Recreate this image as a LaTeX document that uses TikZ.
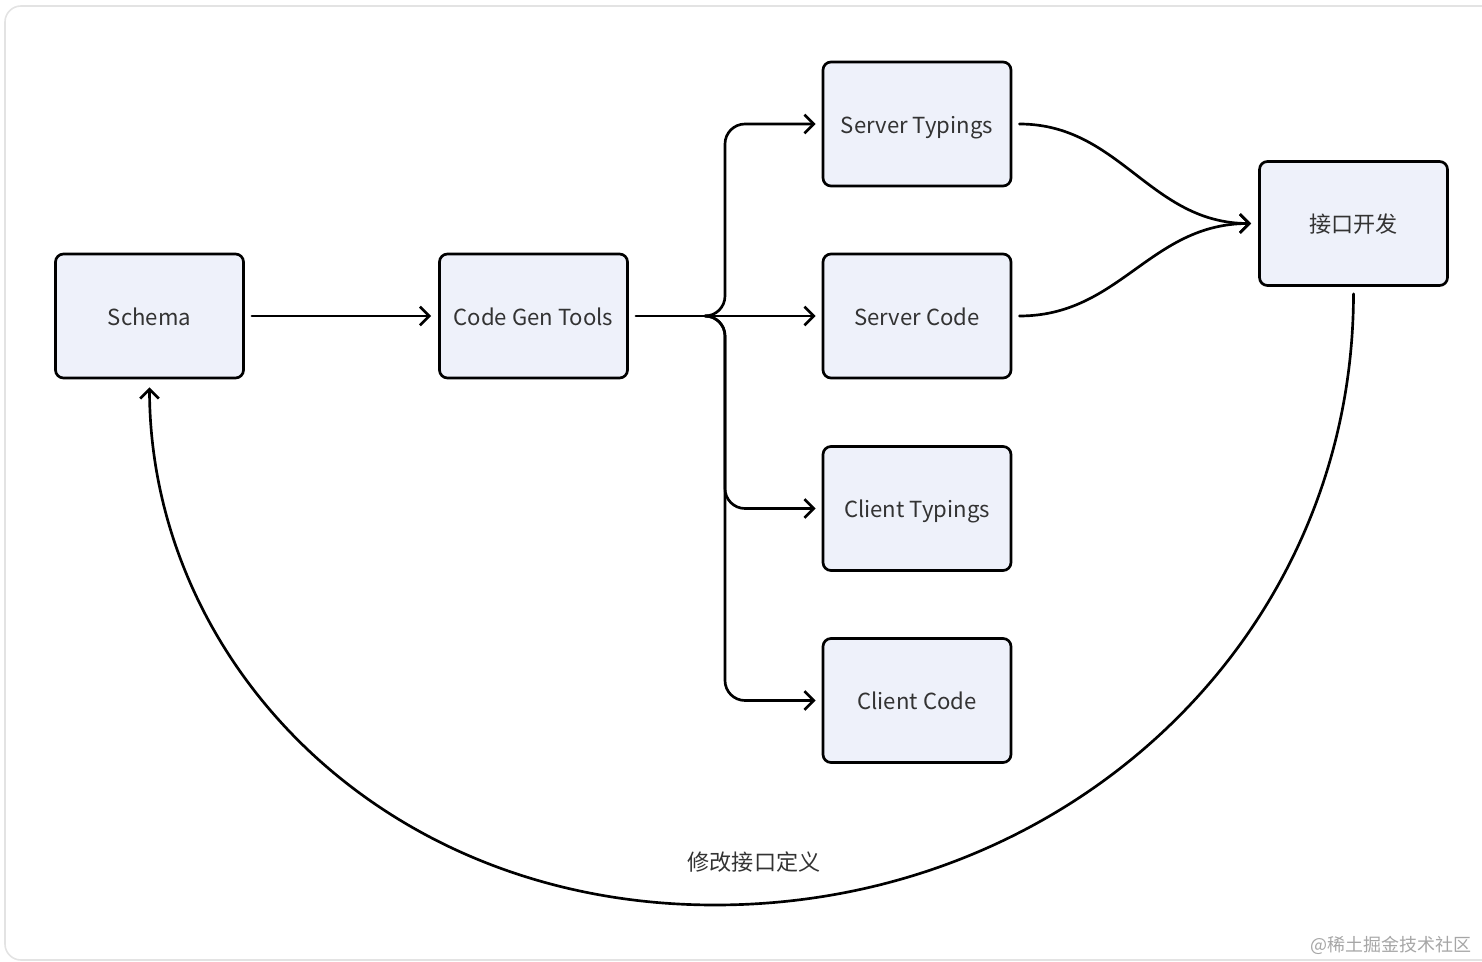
\documentclass[tikz,border=0pt]{standalone}
\usepackage{fontspec}
\setmainfont{Noto Sans CJK SC}
\usetikzlibrary{arrows.meta,calc}
\definecolor{boxfill}{HTML}{EEF1FA}
\definecolor{txt}{HTML}{333333}
\definecolor{frame}{HTML}{E3E3E3}
\begin{document}
\begin{tikzpicture}[x=0.75pt,y=-0.75pt,
  box/.style={draw=black,fill=boxfill,line width=2pt,rounded corners=6pt,
    minimum width=141pt,minimum height=93pt,inner sep=0pt,
    text height=14pt,text depth=0pt,
    font=\fontsize{16.6}{19}\selectfont,text=txt},
  arr/.style={line width=2pt,line cap=round,line join=round,
    -{Straight Barb[length=7pt,width=14pt,line width=2pt]}},
  lbl/.style={font=\fontsize{16.6}{19}\selectfont,text=txt},
  wm/.style={font=\fontsize{13.5}{15}\selectfont,text=black!35}]
\useasboundingbox (0,0) rectangle (1482,962);
\draw[frame,line width=1.2pt,rounded corners=12pt] (5,6) rectangle (1500,960);
\node[box] (schema) at (149.5,316) {Schema};
\node[box] (cgt) at (533.5,316) {Code Gen Tools};
\node[box] (st) at (917,124) {Server Typings};
\node[box] (sc) at (917,316) {Server Code};
\node[box] (ct) at (917,508.5) {Client Typings};
\node[box] (cc) at (917,700.5) {Client Code};
\node[box] (dev) at (1353.5,223.5) {接口开发};
\coordinate (j) at (710,316);
\draw[arr] ($(schema.east)+(7,0)$) -- ($(cgt.west)+(-7,0)$);
\draw[arr] ($(cgt.east)+(7,0)$) -- ($(sc.west)+(-6,0)$);
\draw[arr,rounded corners=15] (j) -| (725,124) -- ($(st.west)+(-6,0)$);
\draw[arr,rounded corners=15] (j) -| (725,508.5) -- ($(ct.west)+(-6,0)$);
\draw[arr,rounded corners=15] (j) -| (725,700.5) -- ($(cc.west)+(-6,0)$);
\draw[arr] ($(st.east)+(7,0)$) .. controls (1120,124) and (1150,223.5) .. ($(dev.west)+(-7,0)$);
\draw[arr] ($(sc.east)+(7,0)$) .. controls (1120,316) and (1150,223.5) .. ($(dev.west)+(-7,0)$);
\draw[arr] ($(dev.south)+(0,7)$) .. controls (1353,640) and (1066,905) .. (715,905)
  .. controls (380,905) and (150,660) .. ($(schema.south)+(0,8)$);
\node[lbl] (mod) at (754,862) {修改接口定义};
\node[wm,anchor=east] (wmk) at (1476,945) {@稀土掘金技术社区};
\end{tikzpicture}
\end{document}
